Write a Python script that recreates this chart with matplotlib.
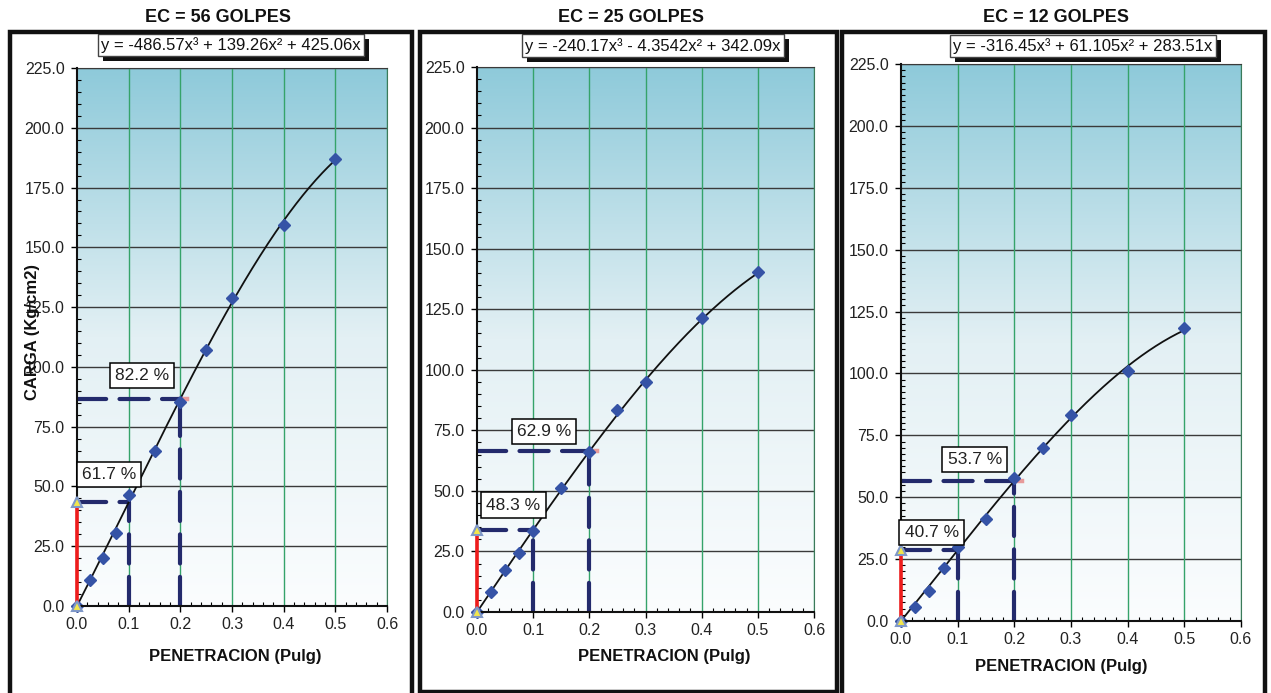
import numpy as np
import matplotlib
matplotlib.use("Agg")
import matplotlib.pyplot as plt
from matplotlib.colors import LinearSegmentedColormap
from matplotlib.patches import Rectangle
from matplotlib.ticker import MultipleLocator, FormatStrFormatter
from matplotlib.transforms import IdentityTransform

plt.rcParams['font.family'] = ['Liberation Sans', 'DejaVu Sans']

# data
penetracion = [0, 0.025, 0.05, 0.075, 0.1, 0.15, 0.2, 0.25, 0.3, 0.4, 0.5]
carga_56 = [0, 10.9, 20.1, 30.6, 46.5, 64.9, 85.2, 107.2, 129.0, 159.2, 186.8]
carga_25 = [0, 8.4, 17.3, 24.5, 33.4, 51.3, 66.2, 83.2, 95.0, 121.4, 140.2]
carga_12 = [0, 5.8, 12.2, 21.3, 29.8, 41.1, 57.9, 70.0, 83.2, 101.0, 118.3]

# cubic fit coefficients (x^3, x^2, x, 0) as printed on the chart
coef_56 = [-486.57, 139.26, 425.06, 0]
coef_25 = [-240.17, -4.3542, 342.09, 0]
coef_12 = [-316.45, 61.105, 283.51, 0]

titles = ['EC = 56 GOLPES', 'EC = 25 GOLPES', 'EC = 12 GOLPES']
ecuaciones = ['y = -486.57x³ + 139.26x² + 425.06x',
              'y = -240.17x³ - 4.3542x² + 342.09x',
              'y = -316.45x³ + 61.105x² + 283.51x']
pct_01 = ['61.7 %', '48.3 %', '40.7 %']
pct_02 = ['82.2 %', '62.9 %', '53.7 %']

W, H = 1271, 693
fig = plt.figure(figsize=(W / 100, H / 100), dpi=100)
fig.patch.set_facecolor('white')

def px(l, t, r, b):
    return [l / W, 1 - b / H, (r - l) / W, (b - t) / H]

# panel frames (pixels)
frames = [(10, 32, 412, 720), (420, 32, 837, 692), (842, 32, 1265, 720)]
for l, t, r, b in frames:
    fig.patches.append(Rectangle((l / W, 1 - b / H), (r - l) / W, (b - t) / H,
                                 transform=fig.transFigure, fill=False,
                                 edgecolor='#111111', lw=3.2, zorder=0))

axes_px = [(77, 68, 387, 606), (477, 67, 814, 612), (901, 64, 1241, 621)]
title_px = [(218, 17), (631, 18), (1056, 18)]
xlabel_px = [(235, 657), (664, 656), (1061, 667)]
eq_pos = [(0.497, 1.043), (0.522, 1.039), (0.535, 1.032)]
lab01_pos = [(0.062, 54.9), (0.065, 44.1), (0.054, 35.7)]
lab02_pos = [(0.126, 96.4), (0.119, 74.4), (0.130, 65.2)]
minor_y = [5, 5, 2.5]

cmap = LinearSegmentedColormap.from_list('bg', ['#fbfdfe', '#e3f0f4', '#8ecada'])
grad = np.linspace(0, 1, 256).reshape(-1, 1)

datasets = [carga_56, carga_25, carga_12]
coefs = [coef_56, coef_25, coef_12]
eq_texts = []

for i in range(3):
    ax = fig.add_axes(px(*axes_px[i]))
    ax.imshow(grad, extent=[0, 1, 0, 1], transform=ax.transAxes, origin='lower',
              cmap=cmap, aspect='auto', zorder=0)
    ax.set_xlim(0, 0.6)
    ax.set_ylim(0, 225)

    for yv in np.arange(25, 226, 25):
        ax.axhline(yv, color='#3a3a3a', lw=1.0, zorder=1)
    for xv in np.arange(0.1, 0.61, 0.1):
        ax.axvline(xv, color='#35a36a', lw=1.0, zorder=1)

    p = np.poly1d(coefs[i])
    y1, y2 = p(0.1), p(0.2)
    dash_kw = dict(color='#232a6c', lw=3.0, dashes=(7.0, 3.2), zorder=3,
                   dash_capstyle='round')
    ax.plot([0, 0.2], [y2, y2], **dash_kw)
    ax.plot([0.2, 0.2], [0, y2], **dash_kw)
    ax.plot([0, 0.1], [y1, y1], **dash_kw)
    ax.plot([0.1, 0.1], [0, y1], **dash_kw)
    ax.plot([0.2, 0.213], [y2, y2], color='#e79a9a', lw=3.2, zorder=2.5)
    ax.plot([0, 0], [0, y1], color='#ee1c1c', lw=2.6, zorder=7, clip_on=False)

    xf = np.linspace(0, 0.5, 200)
    ax.plot(xf, p(xf), color='#111111', lw=1.3, zorder=5)
    ax.plot(penetracion, datasets[i], linestyle='none', marker='D', ms=6,
            color='#3553a6', zorder=6, clip_on=False)
    ax.plot([0, 0], [0, y1], linestyle='none', marker='^', ms=7.5,
            markerfacecolor='#f2e64c', markeredgecolor='#7f98c8', mew=1.5,
            zorder=8, clip_on=False)

    for pos, txt in [(lab01_pos[i], pct_01[i]), (lab02_pos[i], pct_02[i])]:
        ax.text(*pos, txt, ha='center', va='center', fontsize=12.5,
                color='#222222', zorder=9,
                bbox=dict(boxstyle='square,pad=0.3', fc='white', ec='black', lw=1.1))

    t = ax.text(*eq_pos[i], ecuaciones[i], transform=ax.transAxes, ha='center',
                va='center', fontsize=12, color='#111111', clip_on=False, zorder=10,
                bbox=dict(boxstyle='square,pad=0.2', fc='white', ec='#444444', lw=1))
    eq_texts.append((ax, t))

    ax.xaxis.set_major_locator(MultipleLocator(0.1))
    ax.xaxis.set_minor_locator(MultipleLocator(0.02))
    ax.yaxis.set_major_locator(MultipleLocator(25))
    ax.yaxis.set_minor_locator(MultipleLocator(minor_y[i]))
    ax.xaxis.set_major_formatter(FormatStrFormatter('%.1f'))
    ax.yaxis.set_major_formatter(FormatStrFormatter('%.1f'))
    ax.tick_params(which='major', direction='out', length=4, width=1,
                   labelsize=11.5, labelcolor='#222222')
    ax.tick_params(axis='y', which='major', pad=5)
    ax.tick_params(axis='x', which='major', pad=4)
    ax.tick_params(which='minor', direction='in', length=3, width=0.8)
    for s in ['left', 'bottom']:
        ax.spines[s].set_color('#111111')
        ax.spines[s].set_linewidth(1.5)
        ax.spines[s].set_zorder(6)
    ax.spines['top'].set_color('#3a3a3a')
    ax.spines['right'].set_color('#3b7a5a')

    fig.text(title_px[i][0] / W, 1 - title_px[i][1] / H, titles[i], ha='center',
             va='center', fontsize=13, fontweight='bold', color='#111111')
    fig.text(xlabel_px[i][0] / W, 1 - xlabel_px[i][1] / H, 'PENETRACION (Pulg)',
             ha='center', va='center', fontsize=12, fontweight='bold',
             color='#111111')

fig.text(33 / W, 1 - 332 / H, 'CARGA (Kg/cm2)', rotation=90, ha='center',
         va='center', fontsize=12, fontweight='bold', color='#111111')

# drop shadow behind each equation box (drawn in the same axes, under the text)
fig.canvas.draw()
renderer = fig.canvas.get_renderer()
for ax, t in eq_texts:
    bb = t.get_bbox_patch().get_window_extent(renderer)
    ax.add_patch(Rectangle((bb.x0 + 5, bb.y0 - 5), bb.width, bb.height,
                           transform=IdentityTransform(), facecolor='#111111',
                           edgecolor='none', zorder=9.5, clip_on=False))

fig.savefig('out.png', dpi=100)
